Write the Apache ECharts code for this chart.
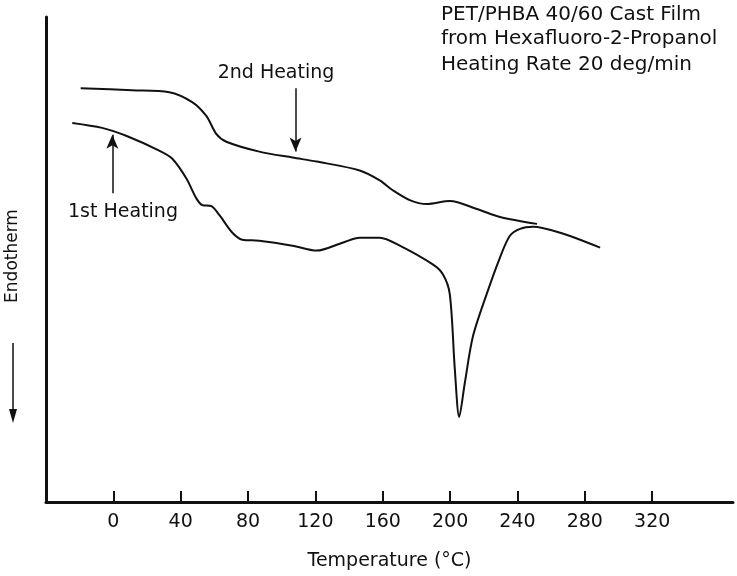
<!DOCTYPE html>
<html>
<head>
<meta charset="utf-8">
<script src="https://cdn.jsdelivr.net/npm/echarts@6/dist/echarts.min.js"></script>
<style>
  html, body { margin: 0; padding: 0; background: #fff; }
  #dsc { width: 737px; height: 576px; }
</style>
</head>
<body>
<div id="dsc"></div>
<script>
// DSC traces, PET/PHBA 40/60 cast film (arbitrary endotherm units)
const secondTemp = [-19.4, 11.1, 33.2, 46.8, 55.2, 61.1, 67.1, 86.7, 106.4, 120.7, 146.3, 158.2, 165.9, 176.0, 186.1, 199.8, 215.9, 229.6, 251.6]
const secondHeat = [41.8, 41.6, 41.4, 40.4, 39.0, 37.2, 36.4, 35.4, 34.8, 34.4, 33.5, 32.5, 31.5, 30.5, 30.1, 30.4, 29.6, 28.8, 28.1]

const firstTemp = [-24.4, -6.7, 7.6, 27.2, 34.9, 43.3, 49.2, 52.8, 58.2, 62.9, 70.7, 76.6, 86.7, 106.4, 120.7, 136.1, 146.3, 158.2, 170.1, 189.7, 195.7, 199.8, 202.8, 205.4, 208.7, 213.5, 221.7, 229.6, 235.5, 241.5, 249.2, 265.3, 289.1]
const firstHeat = [38.3, 37.8, 37.0, 35.5, 34.7, 32.7, 30.7, 30.0, 29.9, 29.0, 27.2, 26.5, 26.4, 25.9, 25.4, 26.2, 26.7, 26.7, 25.9, 24.0, 23.0, 21.0, 13.4, 8.6, 12.0, 16.7, 21.0, 24.7, 26.9, 27.6, 27.8, 27.2, 25.7]

const tempTicks = [0, 40, 80, 120, 160, 200, 240, 280, 320]

const font = 'DejaVu Sans'
const ink = '#111'

const zip = (xs, ys) => xs.map((x, i) => [x, ys[i]])

const chart = echarts.init(document.getElementById('dsc'))

const arrowLine = (from, to) => ({
  silent: true,
  symbol: ['none', 'arrow'],
  symbolSize: [9, 14],
  label: { show: false },
  lineStyle: { color: ink, width: 1.5, type: 'solid' },
  emphasis: { disabled: true },
  data: [[{ coord: from }, { coord: to }]],
})

chart.setOption({
  animation: false,
  backgroundColor: '#fff',
  grid: { left: 46, right: 4, top: 17, bottom: 70 },
  xAxis: {
    type: 'value',
    min: -40,
    max: 368,
    interval: 40,
    name: 'Temperature (°C)',
    nameLocation: 'middle',
    nameGap: 50,
    nameTextStyle: { color: ink, fontFamily: font, fontSize: 19 },
    axisLine: { onZero: false, lineStyle: { color: ink, width: 3 } },
    axisTick: { inside: true, length: 11, customValues: tempTicks, lineStyle: { color: ink, width: 2 } },
    axisLabel: { customValues: tempTicks, color: ink, fontFamily: font, fontSize: 19, margin: 11 },
    splitLine: { show: false },
  },
  yAxis: {
    type: 'value',
    min: 0,
    max: 49,
    axisLine: { show: true, onZero: false, lineStyle: { color: ink, width: 3 } },
    axisTick: { show: false },
    axisLabel: { show: false },
    splitLine: { show: false },
  },
  series: [
    {
      name: '2nd Heating',
      type: 'line',
      data: zip(secondTemp, secondHeat),
      smooth: 0.3,
      showSymbol: false,
      lineStyle: { color: ink, width: 2 },
      markLine: arrowLine([108.2, 41.8], [108.2, 35.4]),
    },
    {
      name: '1st Heating',
      type: 'line',
      data: zip(firstTemp, firstHeat),
      smooth: 0.3,
      showSymbol: false,
      lineStyle: { color: ink, width: 2 },
      markLine: arrowLine([-0.6, 31.2], [-0.6, 37.1]),
    },
  ],
  graphic: [
    { type: 'text', x: 276, y: 73, style: { text: '2nd Heating', fill: ink, font: `19px "${font}"`, align: 'center', verticalAlign: 'middle' } },
    { type: 'text', x: 123, y: 212, style: { text: '1st Heating', fill: ink, font: `19px "${font}"`, align: 'center', verticalAlign: 'middle' } },
    { type: 'text', x: 441, y: 15, style: { text: 'PET/PHBA 40/60 Cast Film', fill: ink, font: `20px "${font}"`, verticalAlign: 'middle' } },
    { type: 'text', x: 441, y: 39, style: { text: 'from Hexafluoro-2-Propanol', fill: ink, font: `20px "${font}"`, verticalAlign: 'middle' } },
    { type: 'text', x: 441, y: 65, style: { text: 'Heating Rate 20 deg/min', fill: ink, font: `20px "${font}"`, verticalAlign: 'middle' } },
    { type: 'text', x: 13, y: 256, rotation: Math.PI / 2, style: { text: 'Endotherm', fill: ink, font: `17px "${font}"`, align: 'center', verticalAlign: 'middle' } },
    { type: 'line', shape: { x1: 13, y1: 343, x2: 13, y2: 412 }, style: { stroke: ink, lineWidth: 1.5 } },
    { type: 'polygon', shape: { points: [[9, 409], [17, 409], [13, 423]] }, style: { fill: ink } },
  ],
})

window.addEventListener('resize', () => chart.resize())
</script>
</body>
</html>
